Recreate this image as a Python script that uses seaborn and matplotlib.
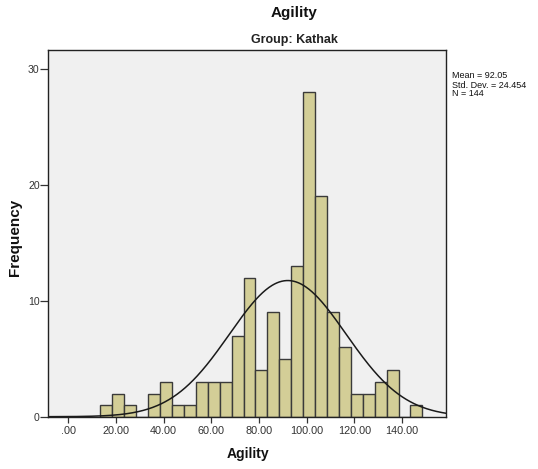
import numpy as np
import pandas as pd
import matplotlib
matplotlib.use("Agg")
import matplotlib.pyplot as plt
import seaborn as sns

# Histogram of Agility scores, Kathak group
bin_start = 13.5
bin_end = 148.5
counts = [1, 2, 1, 0, 2, 3, 1, 1, 3, 3, 3, 7, 12, 4, 9, 5, 13, 28, 19, 9, 6, 2, 2, 3, 4, 0, 1]
mean_val = 92.05
sd_val = 24.454
n_val = 144
x_ticks = [0, 20, 40, 60, 80, 100, 120, 140]
x_tick_labels = [".00", "20.00", "40.00", "60.00", "80.00", "100.00", "120.00", "140.00"]
y_ticks = [0, 10, 20, 30]
stats_lines = [f"Mean = {mean_val:.2f}", f"Std. Dev. = {sd_val:.3f}", f"N = {n_val}"]

edges = np.linspace(bin_start, bin_end, len(counts) + 1)
centers = (edges[:-1] + edges[1:]) / 2
df = pd.DataFrame({"Agility": centers, "count": counts})

sns.set_theme(style="white")
plt.rcParams["font.family"] = ["Liberation Sans", "DejaVu Sans"]

W, H = 538, 469
fig = plt.figure(figsize=(W / 100, H / 100), dpi=100)
ax = fig.add_axes([48 / W, 1 - 416.7 / H, (446 - 48) / W, (416.7 - 50.4) / H])
ax.set_facecolor("#F0F0F0")

sns.histplot(data=df, x="Agility", weights="count", bins=len(counts),
             binrange=(bin_start, bin_end), ax=ax,
             color="#D3CE97", alpha=1.0, edgecolor="#3A3A3A", linewidth=1.0)

# Normal curve scaled to counts per bin
xmin, xmax = -8.5, 158.4
bw = edges[1] - edges[0]
xs = np.linspace(xmin, xmax, 500)
ys = n_val * bw / (sd_val * np.sqrt(2 * np.pi)) * np.exp(-0.5 * ((xs - mean_val) / sd_val) ** 2)
ax.plot(xs, ys, color="#1A1A1A", linewidth=1.1)

ax.set_xlim(xmin, xmax)
ax.set_ylim(0, 31.6)
ax.set_xticks(x_ticks)
ax.set_xticklabels(x_tick_labels)
ax.set_yticks(y_ticks)
ax.set_yticklabels([str(t) for t in y_ticks])
ax.tick_params(axis="x", direction="out", length=4, width=0.9, color="#333333",
               labelsize=7.8, labelcolor="#333333", pad=2.5, bottom=True)
ax.tick_params(axis="y", direction="out", length=5.5, width=0.9, color="#333333",
               labelsize=7.6, labelcolor="#333333", pad=0.5, left=True)
for s in ax.spines.values():
    s.set_color("#222222")
    s.set_linewidth(1.0)

ax.set_xlabel("")
ax.set_ylabel("")
fig.text(248 / W, 1 - 458.3 / H, "Agility", ha="center", va="baseline",
         fontsize=10, fontweight="bold", color="#111111")
fig.text(15 / W, 1 - 237 / H, "Frequency", ha="center", va="center", rotation=90,
         fontsize=11, fontweight="bold", color="#111111")

fig.text(294.5 / W, 1 - 17.5 / H, "Agility", ha="center", va="baseline",
         fontsize=11, fontweight="bold", color="#111111")
fig.text(294.5 / W, 1 - 43 / H, "Group: Kathak", ha="center", va="baseline",
         fontsize=9, fontweight="bold", color="#222222")

# Summary statistics block beside the plot
fig.text(452 / W, 1 - 71.5 / H, "\n".join(stats_lines), ha="left", va="top",
         fontsize=6.5, linespacing=1.0, color="#111111")

fig.savefig("out.png", dpi=100, facecolor="white")
